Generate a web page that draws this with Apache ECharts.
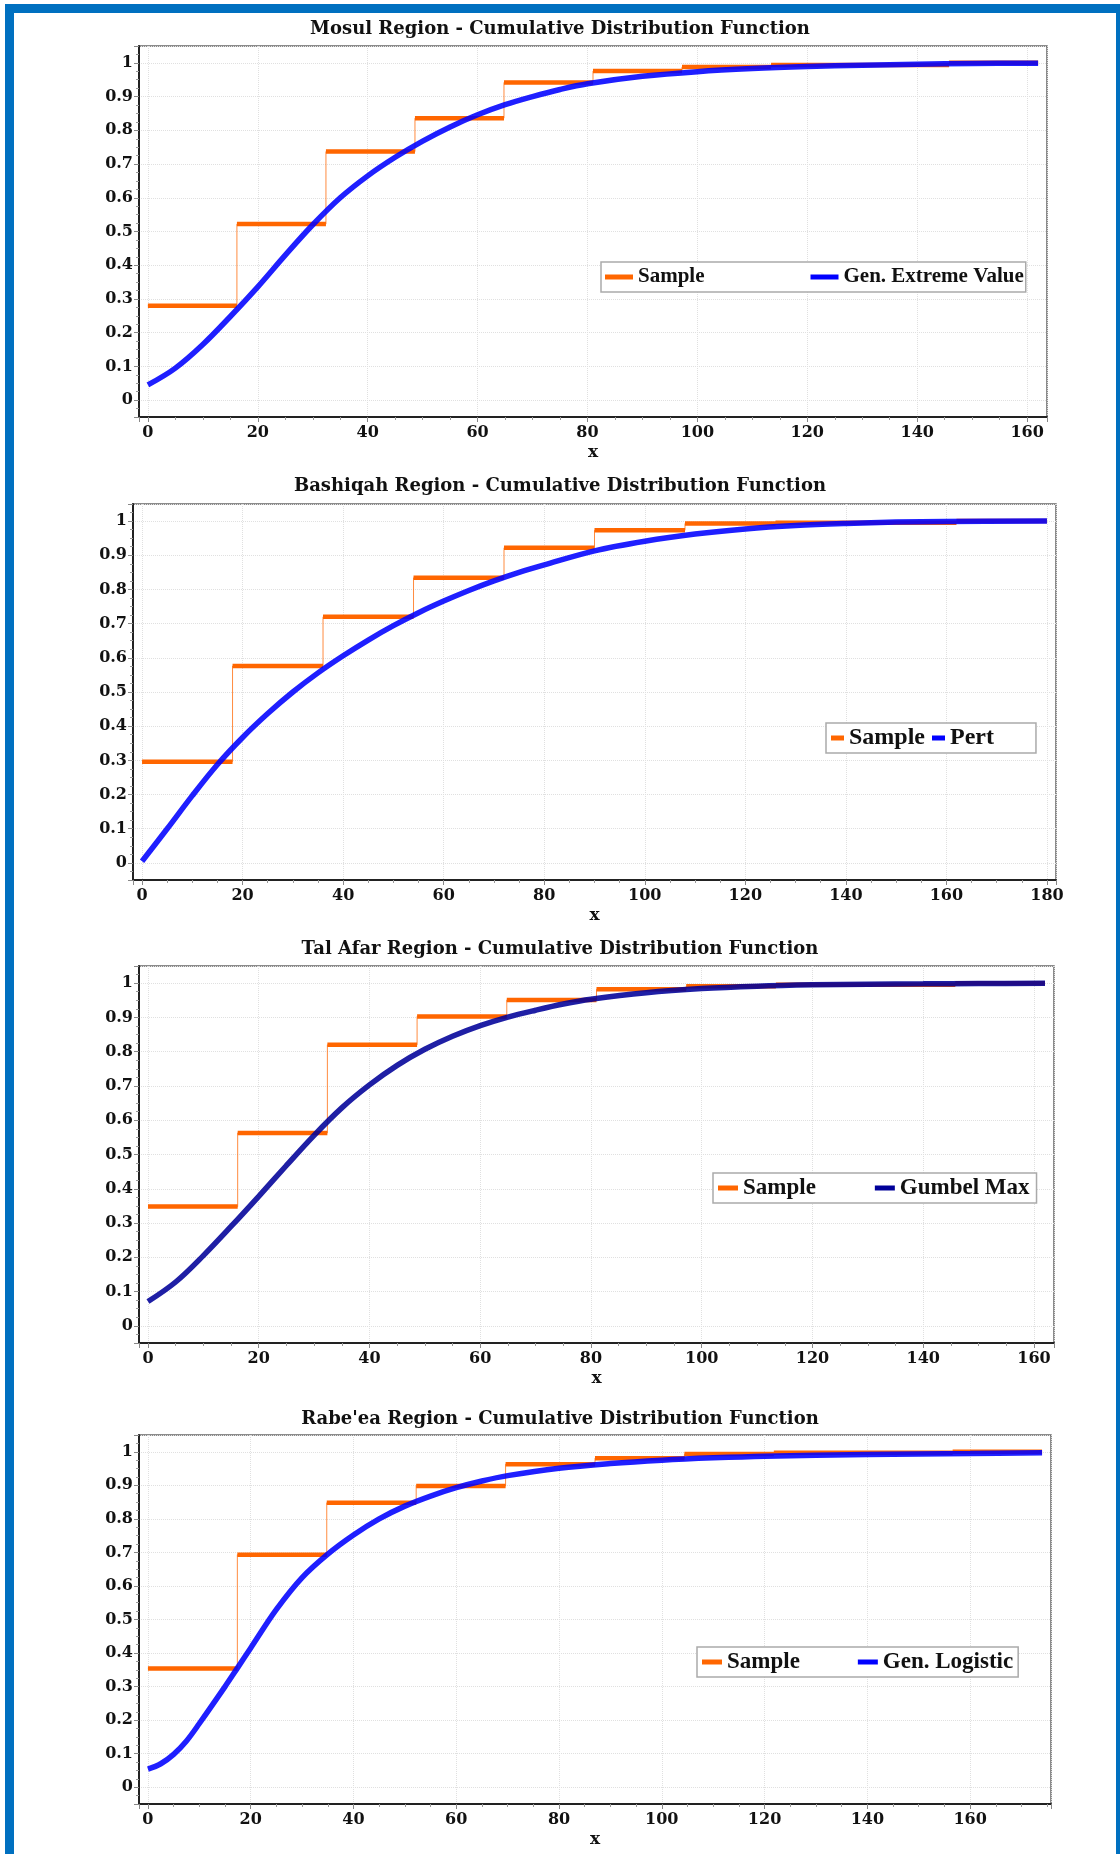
<!DOCTYPE html>
<html lang="en">
<head>
<meta charset="UTF-8">
<title>Cumulative Distribution Functions</title>
<script src="https://cdn.jsdelivr.net/npm/echarts@6/dist/echarts.min.js"></script>
<style>
	html, body { margin: 0; padding: 0; background: #fff; }
	body { width: 1120px; height: 1854px; position: relative; overflow: hidden; }
	.frame {
		position: absolute; left: 5px; top: 4px;
		width: 1120px; height: 1870px;
		border: 9px solid #0070c0; box-sizing: border-box;
	}
	#container { position: absolute; left: 0; top: 0; width: 1120px; height: 1854px; }
</style>
</head>
<body>
<div class="frame"></div>
<div id="container"></div>
<script>
	// ---- Mosul ----
	var mosulEdges = [0, 16.2, 32.4, 48.6, 64.8, 81, 97.2, 113.4, 129.6, 145.8, 162];
	var mosulSample = [0.28, 0.522, 0.737, 0.836, 0.942, 0.976, 0.988, 0.994, 0.994, 1.0];
	var mosulFitX = [0, 5, 10, 15, 20, 25, 30, 35, 40, 45, 50, 55, 60, 65, 70, 75, 80, 90, 100, 110, 120, 130, 140, 150, 162];
	var mosulFitY = [0.045, 0.095, 0.165, 0.248, 0.336, 0.43, 0.52, 0.6, 0.665, 0.72, 0.768, 0.81, 0.846, 0.876, 0.9, 0.921, 0.938, 0.96, 0.974, 0.983, 0.989, 0.993, 0.996, 0.998, 0.999];

	// ---- Bashiqah ----
	var bashiqahEdges = [0, 18, 36, 54, 72, 90, 108, 126, 144, 162, 180];
	var bashiqahSample = [0.296, 0.576, 0.72, 0.834, 0.922, 0.973, 0.993, 0.995, 0.995, 1.0];
	var bashiqahFitX = [0, 5, 10, 15, 20, 25, 30, 35, 40, 45, 50, 55, 60, 65, 70, 75, 80, 90, 100, 110, 120, 130, 140, 150, 160, 180];
	var bashiqahFitY = [0.005, 0.1, 0.197, 0.288, 0.367, 0.437, 0.5, 0.556, 0.606, 0.652, 0.694, 0.732, 0.766, 0.797, 0.825, 0.85, 0.872, 0.913, 0.941, 0.962, 0.977, 0.987, 0.993, 0.997, 0.999, 1.0];

	// ---- Tal Afar ----
	var talAfarEdges = [0, 16.2, 32.4, 48.6, 64.8, 81, 97.2, 113.4, 129.6, 145.8, 162];
	var talAfarSample = [0.348, 0.563, 0.82, 0.903, 0.951, 0.982, 0.991, 0.995, 0.995, 1.0];
	var talAfarFitX = [0, 5, 10, 15, 20, 25, 30, 35, 40, 45, 50, 55, 60, 65, 70, 75, 80, 90, 100, 110, 120, 130, 140, 150, 162];
	var talAfarFitY = [0.071, 0.128, 0.205, 0.29, 0.378, 0.468, 0.556, 0.636, 0.703, 0.76, 0.807, 0.845, 0.876, 0.901, 0.921, 0.939, 0.953, 0.972, 0.984, 0.991, 0.995, 0.997, 0.998, 0.999, 0.9995];

	// ---- Rabe'ea ----
	var rabeeaEdges = [0, 17.4, 34.8, 52.2, 69.6, 87, 104.4, 121.8, 139.2, 156.6, 174];
	var rabeeaSample = [0.354, 0.693, 0.848, 0.898, 0.963, 0.981, 0.993, 0.997, 0.997, 1.0];
	var rabeeaFitX = [0, 2.5, 5, 7.5, 10, 15, 17.4, 20, 25, 30, 35, 40, 45, 50, 55, 60, 65, 70, 80, 90, 100, 110, 120, 140, 160, 174];
	var rabeeaFitY = [0.054, 0.07, 0.098, 0.138, 0.19, 0.3, 0.355, 0.415, 0.53, 0.625, 0.695, 0.752, 0.8, 0.838, 0.868, 0.893, 0.913, 0.929, 0.951, 0.965, 0.975, 0.982, 0.987, 0.992, 0.995, 0.997];

	var charts = [
		{ title: 'Mosul Region - Cumulative Distribution Function', fit: 'Gen. Extreme Value', fitColor: '#0000ff',
		  edges: mosulEdges, sample: mosulSample, fitX: mosulFitX, fitY: mosulFitY },
		{ title: 'Bashiqah Region - Cumulative Distribution Function', fit: 'Pert', fitColor: '#0000ff',
		  edges: bashiqahEdges, sample: bashiqahSample, fitX: bashiqahFitX, fitY: bashiqahFitY },
		{ title: 'Tal Afar Region - Cumulative Distribution Function', fit: 'Gumbel Max', fitColor: '#000099',
		  edges: talAfarEdges, sample: talAfarSample, fitX: talAfarFitX, fitY: talAfarFitY },
		{ title: "Rabe'ea Region - Cumulative Distribution Function", fit: 'Gen. Logistic', fitColor: '#0000ff',
		  edges: rabeeaEdges, sample: rabeeaSample, fitX: rabeeaFitX, fitY: rabeeaFitY }
	];

	// page layout, px
	var layout = [
		{ titleTop: 20, grid: { left: 139, top: 46, width: 908, height: 371 },
		  legend: { left: 601, top: 262, fontSize: 21, itemWidth: 28, itemGap: 106, padding: [2, 2, 2, 4] } },
		{ titleTop: 477, grid: { left: 133, top: 504, width: 923, height: 376 },
		  legend: { left: 826, top: 723, fontSize: 24, itemWidth: 13, itemGap: 7, padding: [2, 42, 2, 5] } },
		{ titleTop: 940, grid: { left: 139, top: 966, width: 915, height: 377 },
		  legend: { left: 713, top: 1173, fontSize: 23, itemWidth: 20, itemGap: 59, padding: [2, 7, 2, 5] } },
		{ titleTop: 1410, grid: { left: 139, top: 1435, width: 912, height: 369 },
		  legend: { left: 697, top: 1647, fontSize: 23, itemWidth: 20, itemGap: 58, padding: [2, 5, 2, 5] } }
	];

	var ORANGE = '#ff6600';
	var serif = 'DejaVu Serif';

	function stepSegments(edges, vals) {
		var out = [];
		for (var i = 0; i < vals.length; i++) {
			out.push([edges[i], vals[i]]);
			out.push([edges[i + 1], vals[i]]);
			out.push([edges[i + 1], null]);
		}
		return out;
	}
	function stepPath(edges, vals) {
		var out = [];
		for (var i = 0; i < vals.length; i++) {
			out.push([edges[i], vals[i]]);
			out.push([edges[i + 1], vals[i]]);
		}
		return out;
	}
	function pairs(xs, ys) {
		return xs.map(function (x, i) { return [x, ys[i]]; });
	}

	var option = { animation: false, title: [], grid: [], xAxis: [], yAxis: [], legend: [], series: [] };

	charts.forEach(function (c, i) {
		var L = layout[i];
		var x0 = c.edges[0], x1 = c.edges[c.edges.length - 1];
		var pad = (x1 - x0) * 0.01;

		option.title.push({
			text: c.title, left: 'center', top: L.titleTop, padding: 0,
			textStyle: { fontFamily: serif, fontWeight: 'bold', fontSize: 18, color: '#111' }
		});
		option.grid.push({
			left: L.grid.left, top: L.grid.top, width: L.grid.width, height: L.grid.height,
			show: true, borderColor: '#666', borderWidth: 1.5, backgroundColor: '#fff'
		});
		option.xAxis.push({
			gridIndex: i, type: 'value',
			min: x0 - pad, max: x1 + pad,
			splitNumber: 8, minInterval: 20, maxInterval: 20,
			name: 'x', nameLocation: 'middle', nameGap: 27,
			nameTextStyle: { fontFamily: serif, fontWeight: 'bold', fontSize: 17, color: '#111' },
			axisLine: { show: true, onZero: false, lineStyle: { color: '#222', width: 2 } },
			axisTick: { show: true, inside: false, length: 5, lineStyle: { color: '#888' } },
			minorTick: { show: true, splitNumber: 4, length: 3, lineStyle: { color: '#999' } },
			axisLabel: {
				margin: 8, fontFamily: serif, fontWeight: 'bold', fontSize: 16, color: '#111',
				formatter: function (v) {
					return (v >= 0 && Math.abs(v / 20 - Math.round(v / 20)) < 1e-6) ? String(Math.round(v)) : '';
				}
			},
			splitLine: { show: true, lineStyle: { type: 'dotted', color: '#e0e0e0' } }
		});
		option.yAxis.push({
			gridIndex: i, type: 'value',
			min: -0.05, max: 1.05,
			splitNumber: 11, minInterval: 0.1, maxInterval: 0.1,
			axisLine: { show: true, onZero: false, lineStyle: { color: '#222', width: 2 } },
			axisTick: { show: true, inside: false, length: 5, lineStyle: { color: '#888' } },
			minorTick: { show: true, splitNumber: 4, length: 3, lineStyle: { color: '#999' } },
			axisLabel: {
				margin: 6, fontFamily: serif, fontWeight: 'bold', fontSize: 16, color: '#111',
				formatter: function (v) {
					if (v < -1e-6 || v > 1 + 1e-6) return '';
					if (Math.abs(v * 10 - Math.round(v * 10)) > 1e-6) return '';
					return String(Math.round(v * 10) / 10);
				}
			},
			splitLine: { show: true, lineStyle: { type: 'dotted', color: '#e0e0e0' } }
		});
		option.legend.push({
			data: ['Sample', c.fit],
			orient: 'horizontal',
			left: L.legend.left, top: L.legend.top,
			padding: L.legend.padding, itemGap: L.legend.itemGap,
			itemWidth: L.legend.itemWidth, itemHeight: 5, icon: 'rect',
			backgroundColor: '#fff', borderColor: '#aaa', borderWidth: 1.5,
			selectedMode: false,
			textStyle: { fontFamily: 'Liberation Serif', fontWeight: 'bold', fontSize: L.legend.fontSize, color: '#111', lineHeight: 26 }
		});

		// thin risers between the steps
		option.series.push({
			type: 'line', xAxisIndex: i, yAxisIndex: i,
			data: stepPath(c.edges, c.sample),
			showSymbol: false, symbol: 'none', silent: true, z: 2,
			lineStyle: { color: ORANGE, width: 1, opacity: 0.75 }
		});
		// thick horizontal steps of the sample
		option.series.push({
			name: 'Sample', type: 'line', xAxisIndex: i, yAxisIndex: i,
			data: stepSegments(c.edges, c.sample),
			connectNulls: false, showSymbol: false, symbol: 'none', z: 3,
			color: ORANGE,
			lineStyle: { color: ORANGE, width: 4.5, cap: 'butt' }
		});
		// fitted distribution
		option.series.push({
			name: c.fit, type: 'line', xAxisIndex: i, yAxisIndex: i,
			data: pairs(c.fitX, c.fitY),
			smooth: 0.35,
			showSymbol: false, symbol: 'none', z: 4, clip: false,
			color: c.fitColor,
			lineStyle: { color: c.fitColor, width: 5.5, opacity: 0.88 }
		});
	});

	var myChart = echarts.init(document.getElementById('container'), null, { renderer: 'canvas' });
	myChart.setOption(option);
</script>
</body>
</html>
